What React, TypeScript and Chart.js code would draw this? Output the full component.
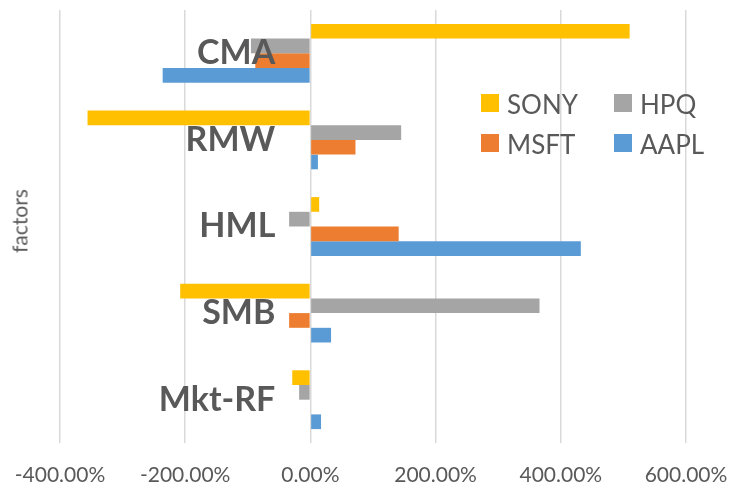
import React, { useEffect, useRef } from 'react';
import { Chart, registerables } from 'chart.js';

Chart.register(...registerables);

// Categories listed top to bottom
const categories = ['CMA', 'RMW', 'HML', 'SMB', 'Mkt-RF'];
// Values in percent
const sonyValues = [510, -356, 14, -208, -29];
const hpqValues = [-95, 145, -34, 366, -18];
const msftValues = [-88, 72, 141, -34, 0];
const aaplValues = [-236, 12, 432, 33, 17];
const xTickValues = [-400, -200, 0, 200, 400, 600];
const seriesNames = ['SONY', 'HPQ', 'MSFT', 'AAPL'];
const seriesColors = ['#FFC000', '#A5A5A5', '#ED7D31', '#5B9BD5'];
const axisTitle = 'factors';

const TEXT = '#595959';

export default function App() {
  const canvasRef = useRef<HTMLCanvasElement | null>(null);

  useEffect(() => {
    const canvas = canvasRef.current;
    if (!canvas) return;
    const seriesValues = [sonyValues, hpqValues, msftValues, aaplValues];
    const chart = new Chart(canvas, {
      type: 'bar',
      data: {
        labels: categories,
        datasets: seriesNames.map((name, i) => ({
          label: name,
          data: seriesValues[i],
          backgroundColor: seriesColors[i],
          borderWidth: 0,
          categoryPercentage: 0.679,
          barPercentage: 1,
        })),
      },
      options: {
        indexAxis: 'y',
        responsive: false,
        animation: false,
        devicePixelRatio: 1,
        layout: { padding: { left: 60, right: 44, top: 10, bottom: 0 } },
        plugins: { legend: { display: false }, tooltip: { enabled: false } },
        scales: {
          x: {
            type: 'linear',
            position: 'bottom',
            min: -400,
            max: 600,
            afterBuildTicks: (s: any) => {
              s.ticks = xTickValues.map((v) => ({ value: v }));
            },
            grid: { color: '#D9D9D9', lineWidth: 1.5, drawTicks: false },
            border: { display: false },
            ticks: {
              padding: 20,
              color: TEXT,
              autoSkip: false,
              maxRotation: 0,
              font: { family: 'Lato', size: 21 },
              callback: (v: any) => Number(v).toFixed(2) + '%',
            },
            afterFit: (s: any) => {
              s.height = 41;
              s.paddingLeft = 0;
              s.paddingRight = 0;
            },
          },
          y: {
            type: 'category',
            position: { x: -56 } as any,
            grid: { display: false, drawTicks: false },
            border: { display: false },
            ticks: {
              z: 1,
              color: TEXT,
              font: { family: 'Lato', size: 34, weight: 'bold' },
            },
            afterFit: (s: any) => {
              s.width = 0;
              s.paddingTop = 0;
              s.paddingBottom = 0;
            },
          },
        },
      },
    } as any);
    return () => chart.destroy();
  }, []);

  const legendPos = [
    { left: 481, top: 94 },
    { left: 614, top: 94 },
    { left: 481, top: 134 },
    { left: 614, top: 134 },
  ];

  return (
    <div style={{ position: 'fixed', left: 0, top: 0, width: 730, height: 484, background: '#fff', overflow: 'hidden' }}>
      <canvas ref={canvasRef} width={730} height={484} style={{ width: 730, height: 484, display: 'block' }} />
      <div
        style={{
          position: 'absolute',
          left: 19,
          top: 221,
          transform: 'translate(-50%, -50%) rotate(-90deg)',
          fontFamily: 'Lato',
          fontSize: 21,
          color: TEXT,
          whiteSpace: 'nowrap',
          lineHeight: 1,
        }}
      >
        {axisTitle}
      </div>
      {seriesNames.map((name, i) => (
        <div
          key={name}
          style={{
            position: 'absolute',
            left: legendPos[i].left,
            top: legendPos[i].top,
            height: 18,
            display: 'flex',
            alignItems: 'center',
            fontFamily: 'Lato',
            fontSize: 26,
            color: TEXT,
            whiteSpace: 'nowrap',
          }}
        >
          <span style={{ display: 'inline-block', width: 18, height: 18, background: seriesColors[i], marginRight: 8 }} />
          <span style={{ lineHeight: '18px', position: 'relative', top: 1 }}>{name}</span>
        </div>
      ))}
    </div>
  );
}
